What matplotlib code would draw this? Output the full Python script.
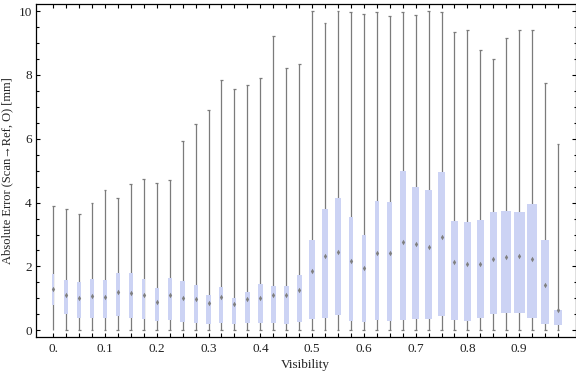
import matplotlib
matplotlib.use("Agg")
import matplotlib.pyplot as plt
from matplotlib.ticker import MultipleLocator, FixedLocator

# ---- data ----
visibility = [0.0, 0.025, 0.05, 0.075, 0.1, 0.125, 0.15, 0.175, 0.2, 0.225,
              0.25, 0.275, 0.3, 0.325, 0.35, 0.375, 0.4, 0.425, 0.45, 0.475,
              0.5, 0.525, 0.55, 0.575, 0.6, 0.625, 0.65, 0.675, 0.7, 0.725,
              0.75, 0.775, 0.8, 0.825, 0.85, 0.875, 0.9, 0.925, 0.95, 0.975]
whisker_lo = [0.0, 0.0, 0.0, 0.0, 0.0, 0.0, 0.0, 0.0, 0.0, 0.0,
              0.0, 0.0, 0.0, 0.0, 0.0, 0.0, 0.0, 0.0, 0.0, 0.0,
              0.0, 0.0, 0.0, 0.0, 0.0, 0.0, 0.0, 0.0, 0.0, 0.0,
              0.0, 0.0, 0.0, 0.0, 0.0, 0.0, 0.0, 0.0, 0.0, 0.0]
whisker_hi = [3.89, 3.80, 3.64, 3.99, 4.38, 4.14, 4.58, 4.73, 4.61, 4.70,
              5.92, 6.45, 6.89, 7.83, 7.57, 7.67, 7.89, 9.21, 8.23, 8.34,
              9.99, 9.61, 9.99, 9.96, 9.92, 9.96, 9.83, 9.96, 9.89, 9.99,
              9.96, 9.33, 9.42, 8.77, 8.51, 9.14, 9.42, 9.42, 7.76, 5.85]
box_lo = [0.78, 0.50, 0.39, 0.37, 0.39, 0.46, 0.40, 0.34, 0.29, 0.32,
          0.26, 0.23, 0.20, 0.23, 0.20, 0.23, 0.23, 0.23, 0.20, 0.26,
          0.34, 0.39, 0.48, 0.29, 0.26, 0.32, 0.29, 0.32, 0.36, 0.36,
          0.45, 0.32, 0.29, 0.37, 0.51, 0.55, 0.55, 0.40, 0.20, 0.17]
box_hi = [1.76, 1.58, 1.50, 1.62, 1.58, 1.78, 1.79, 1.60, 1.32, 1.63,
          1.54, 1.41, 1.10, 1.35, 1.00, 1.19, 1.44, 1.38, 1.38, 1.72,
          2.83, 3.79, 4.14, 3.54, 2.98, 4.04, 4.01, 4.98, 4.48, 4.39,
          4.95, 3.42, 3.39, 3.45, 3.70, 3.73, 3.70, 3.95, 2.83, 0.63]
medians = [1.30, 1.12, 1.02, 1.07, 1.04, 1.20, 1.18, 1.10, 0.90, 1.09,
           1.00, 0.99, 0.84, 1.03, 0.81, 0.99, 1.01, 1.09, 1.12, 1.26,
           1.87, 2.33, 2.46, 2.16, 1.96, 2.41, 2.42, 2.75, 2.69, 2.62,
           2.91, 2.14, 2.07, 2.08, 2.23, 2.31, 2.33, 2.23, 1.43, 0.64]
# relative box widths (in units of visibility)
box_widths = [0.0033, 0.0064, 0.0064, 0.0064, 0.0064, 0.0064, 0.0064, 0.0064, 0.0071, 0.0077,
              0.0083, 0.0077, 0.0083, 0.0077, 0.0077, 0.0097, 0.0102, 0.0102, 0.0102, 0.0102,
              0.0102, 0.0116, 0.0116, 0.0091, 0.0083, 0.0083, 0.0097, 0.0122, 0.0122, 0.0122,
              0.0135, 0.0135, 0.0135, 0.0141, 0.0135, 0.0199, 0.0212, 0.0193, 0.0155, 0.0155]
x_tick_values = [0.0, 0.1, 0.2, 0.3, 0.4, 0.5, 0.6, 0.7, 0.8, 0.9]
x_tick_labels = ["0.", "0.1", "0.2", "0.3", "0.4", "0.5", "0.6", "0.7", "0.8", "0.9"]
y_tick_values = [0, 2, 4, 6, 8, 10]
y_tick_labels = ["0", "2", "4", "6", "8", "10"]

# ---- style ----
serif = ["Liberation Serif", "DejaVu Serif"]
plt.rcParams["font.family"] = serif
box_color = "#ccd3f4"
whisker_color = "#7b7b7b"
text_color = "#222222"

fig = plt.figure(figsize=(5.76, 3.77), dpi=100)
ax = fig.add_axes([36 / 576, 1 - 337 / 377, (575.5 - 36) / 576, (337 - 4) / 377])

cap = 0.0028
# whiskers
ax.vlines(visibility, whisker_lo, whisker_hi, color=whisker_color, lw=0.9, zorder=1)
ax.hlines(whisker_hi, [v - cap for v in visibility], [v + cap for v in visibility],
          color=whisker_color, lw=0.9, zorder=1)
ax.hlines(whisker_lo[1:], [v - cap for v in visibility[1:]], [v + cap for v in visibility[1:]],
          color=whisker_color, lw=0.9, zorder=1)
# boxes
ax.bar(visibility, [h - l for h, l in zip(box_hi, box_lo)], bottom=box_lo,
       width=box_widths, color=box_color, edgecolor="none", linewidth=0, zorder=2)
# medians
ax.plot(visibility, medians, linestyle="none", marker="d", markersize=2.8,
        color="#808080", markeredgewidth=0, zorder=3)

ax.set_xlim(-0.0332, 1.0087)
ax.set_ylim(-0.21, 10.22)

ax.xaxis.set_major_locator(FixedLocator(x_tick_values))
ax.set_xticklabels(x_tick_labels)
ax.xaxis.set_minor_locator(FixedLocator(visibility))
ax.yaxis.set_major_locator(FixedLocator(y_tick_values))
ax.set_yticklabels(y_tick_labels)
ax.yaxis.set_minor_locator(MultipleLocator(0.5))

ax.tick_params(which="both", direction="in", top=True, right=True, color="black",
               width=0.8, labelcolor=text_color, labelsize=9.5)
ax.tick_params(axis="x", which="major", length=3, pad=4)
ax.tick_params(axis="x", which="minor", length=3)
ax.tick_params(axis="y", which="major", length=3.2, pad=3)
ax.tick_params(axis="y", which="minor", length=1.8)
for s in ax.spines.values():
    s.set_linewidth(0.9)
    s.set_color("black")

ax.set_xlabel("Visibility", fontsize=9.5, color=text_color, labelpad=3)
ax.set_ylabel("Absolute Error (Scan\u2192Ref, O) [mm]", fontsize=9, color=text_color, labelpad=4)

fig.savefig("out.png", dpi=100)
